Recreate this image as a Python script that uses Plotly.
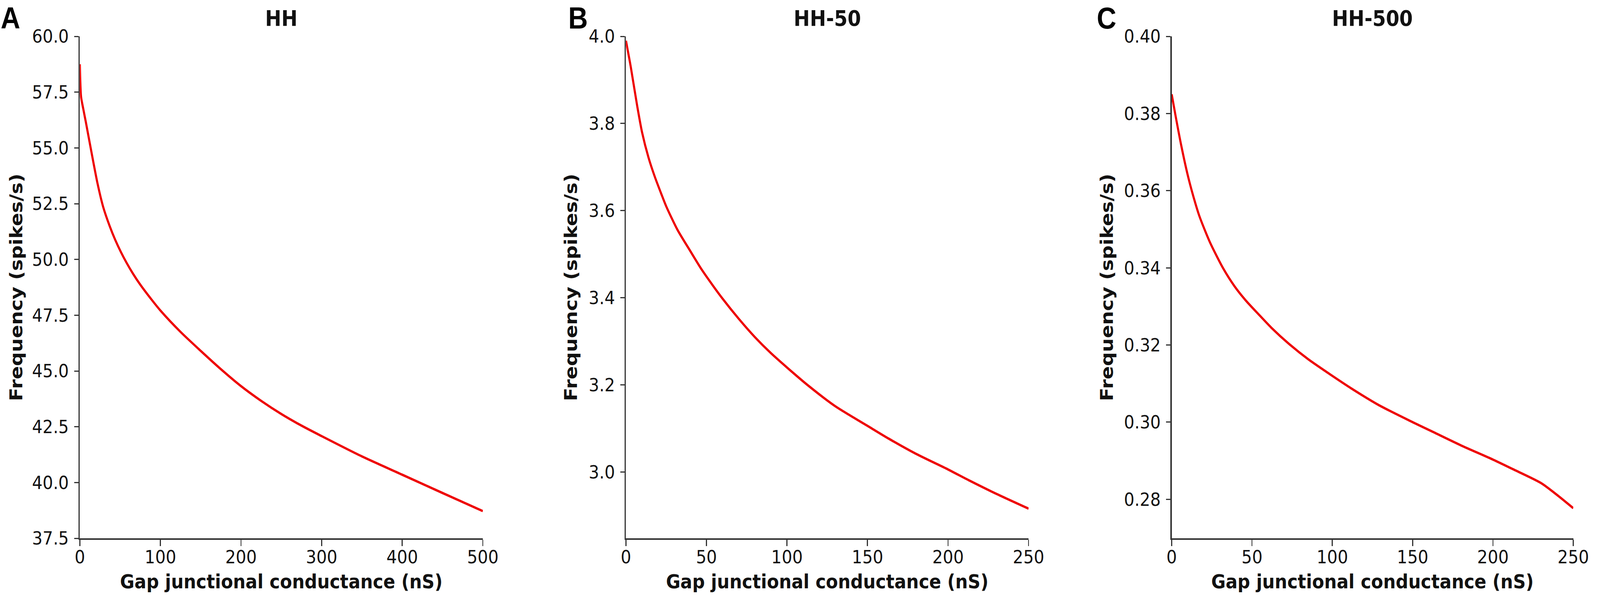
import plotly.graph_objects as go

# ---- data ----
a_x = [0, 1.5, 4, 7.5, 15, 22, 29, 37, 44, 51, 58, 66, 75, 89, 100, 125, 150, 175, 200, 225, 250, 275, 300, 350, 400, 450, 500]
a_y = [58.75, 57.3, 56.8, 56.15, 54.7, 53.4, 52.35, 51.5, 50.87, 50.33, 49.85, 49.36, 48.87, 48.2, 47.71, 46.75, 45.9, 45.08, 44.32, 43.66, 43.07, 42.55, 42.08, 41.17, 40.35, 39.53, 38.72]

b_x = [0, 3, 7, 10, 14, 18, 22, 25, 32, 40, 47, 54, 60, 70, 80, 90, 100, 113, 130, 150, 163, 180, 200, 213, 230, 250]
b_y = [3.99, 3.93, 3.84, 3.78, 3.722, 3.677, 3.638, 3.61, 3.556, 3.507, 3.465, 3.428, 3.398, 3.352, 3.31, 3.273, 3.24, 3.199, 3.151, 3.106, 3.077, 3.042, 3.006, 2.981, 2.95, 2.916]

c_x = [0, 2.5, 6, 10, 13.5, 17, 21, 24.5, 32, 39, 46, 54, 62, 73, 85, 100, 112, 129, 150, 163, 180, 200, 213, 230, 240, 250]
c_y = [0.385, 0.3792, 0.3716, 0.364, 0.3585, 0.3537, 0.3494, 0.346, 0.3399, 0.3353, 0.3316, 0.328, 0.3245, 0.3203, 0.3163, 0.312, 0.3087, 0.3044, 0.3000, 0.2974, 0.2940, 0.2903, 0.2877, 0.2842, 0.2811, 0.2777]

titles = ["HH", "HH-50", "HH-500"]
letters = ["A", "B", "C"]
x_title = "Gap junctional conductance (nS)"
y_title = "Frequency (spikes/s)"

a_xticks = [0, 100, 200, 300, 400, 500]
bc_xticks = [0, 50, 100, 150, 200, 250]
a_yticks = [37.5, 40.0, 42.5, 45.0, 47.5, 50.0, 52.5, 55.0, 57.5, 60.0]
b_yticks = [3.0, 3.2, 3.4, 3.6, 3.8, 4.0]
c_yticks = [0.28, 0.30, 0.32, 0.34, 0.36, 0.38, 0.40]

# ---- layout constants ----
W, H = 4550, 1540
RED = "#ee0000"
AX = "#333333"
TXT = "#111111"
FONT = "DejaVu Sans"

xdoms = [(227 / W, 1373 / W), (1780 / W, 2925 / W), (3332 / W, 4474 / W)]
ydom = (1 - 1377 / H, 1 - 93 / H)
xranges = [[0, 500], [0, 250], [0, 250]]
yranges = [[37.5, 60.0], [2.848, 4.0], [0.2699, 0.40]]
xtickvals = [a_xticks, bc_xticks, bc_xticks]
ytickvals = [a_yticks, b_yticks, c_yticks]
yfmts = [".1f", ".1f", ".2f"]
series = [(a_x, a_y), (b_x, b_y), (c_x, c_y)]
letter_x = [0, 1614, 3117]
ytitle_standoff = [12, 18, 16]

fig = go.Figure()
layout = dict(
    width=W, height=H, autosize=False,
    margin=dict(l=0, r=0, t=0, b=0, pad=0, autoexpand=False),
    paper_bgcolor="white", plot_bgcolor="white",
    showlegend=False,
    font=dict(family=FONT, color=TXT, size=47),
)
annotations = []
for i in range(3):
    sx = "" if i == 0 else str(i + 1)
    xs, ys = series[i]
    fig.add_trace(go.Scatter(
        x=xs, y=ys, mode="lines", xaxis="x" + sx, yaxis="y" + sx,
        line=dict(color=RED, width=6, shape="spline", smoothing=0.7),
        hoverinfo="skip",
    ))
    layout["xaxis" + sx] = dict(
        domain=list(xdoms[i]), anchor="y" + sx, range=xranges[i], automargin=False,
        tickvals=xtickvals[i], ticks="outside", ticklen=16, tickwidth=3, tickcolor=AX,
        showline=True, linecolor=AX, linewidth=3.5, showgrid=False, zeroline=False,
        tickfont=dict(family=FONT, size=47, color=TXT), ticklabelstandoff=-12,
        title=dict(text="<b>" + x_title + "</b>", font=dict(family=FONT, size=50, color=TXT), standoff=20),
    )
    layout["yaxis" + sx] = dict(
        domain=list(ydom), anchor="x" + sx, range=yranges[i], automargin=False,
        tickvals=ytickvals[i], tickformat=yfmts[i], ticks="outside", ticklen=12, tickwidth=3, tickcolor=AX,
        showline=True, linecolor=AX, linewidth=3.5, showgrid=False, zeroline=False,
        tickfont=dict(family=FONT, size=47, color=TXT), ticklabelstandoff=6,
        title=dict(text="<b>" + y_title + "</b>", font=dict(family=FONT, size=50, color=TXT),
                   standoff=ytitle_standoff[i]),
    )
    annotations.append(dict(
        text="<b>" + titles[i] + "</b>", xref="paper", yref="paper",
        x=(xdoms[i][0] + xdoms[i][1]) / 2, y=1 - 47 / H, xanchor="center", yanchor="middle",
        showarrow=False, font=dict(family=FONT, size=55, color=TXT),
    ))
    annotations.append(dict(
        text="<b>" + letters[i] + "</b>", xref="paper", yref="paper",
        x=letter_x[i] / W, y=1 - 1 / H, xanchor="left", yanchor="top",
        showarrow=False, font=dict(family="Liberation Sans", size=77, color="#000000"),
    ))
layout["annotations"] = annotations
fig.update_layout(**layout)

# fit the 4550 x 1540 figure exactly into whatever viewport the browser really has
post = (
    "document.documentElement.style.margin='0';document.body.style.margin='0';"
    "document.documentElement.style.overflow='hidden';document.body.style.overflow='hidden';"
    "var gd=document.getElementById('{plot_id}');"
    "var sx=window.innerWidth/%d, sy=window.innerHeight/%d;"
    "gd.style.transformOrigin='0 0';"
    "gd.style.transform='scale('+sx+','+sy+')';" % (W, H)
)
fig.write_html("out.html", post_script=post, config={"displayModeBar": False})
